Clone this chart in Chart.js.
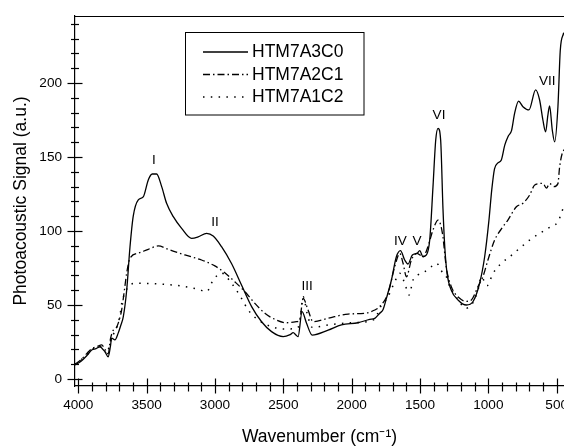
<!DOCTYPE html>
<html><head><meta charset="utf-8">
<script src="https://cdn.jsdelivr.net/npm/chart.js@4/dist/chart.umd.min.js"></script>
<style>html,body{margin:0;padding:0;background:#fff;overflow:hidden}canvas{display:block}</style>
</head><body>
<canvas id="c" width="564" height="446"></canvas>
<script>
const seriesNames = ['HTM7A3C0', 'HTM7A2C1', 'HTM7A1C2'];

const wn3C0 = [4024,3980,3940,3902,3870,3841,3820,3805,3781,3765,3756,3732,3708,3690,3671,3646,3622,3598,3561,3525,3488,3459,3427,3390,3354,3305,3244,3171,3123,3061,3013,2952,2879,2806,2732,2659,2586,2501,2450,2428,2405,2392,2363,2330,2289,2172,2075,1953,1868,1831,1795,1770,1746,1709,1673,1643,1612,1588,1556,1522,1502,1478,1453,1429,1405,1385,1368,1349,1332,1319,1302,1271,1222,1161,1113,1064,1027,996,975,955,930,905,880,855,830,808,779,747,703,654,625,601,581,565,552,532,515,491,474,449];
const sig3C0 = [9.5,12,15.5,19.6,20.5,21.8,20,18.5,15,22,27.6,26.4,31,36,42,60,89,110,121,123,134.5,138.5,138.5,130,118.7,109.7,101.8,95,96,98.4,96.6,89.4,78,63.5,48.9,38.7,32,28.6,30,31.3,29.5,28.6,45.5,37.6,29.7,33,36.5,38,40.3,41,44.4,47,54.5,66.9,82.6,86.7,80.4,77.7,83.8,84.9,86.7,82.6,83.8,93.9,130,161.5,169.4,161.5,115,89.4,71.4,60,53.4,50,52.2,64.7,82.6,107,128,142,146,148,158,164,168,179.5,187.8,184,181.8,195.3,188.5,175,167,178,184.5,168,160.3,184,222,234];

const wn2C1 = [4024,3980,3940,3902,3860,3829,3805,3781,3765,3744,3720,3700,3683,3660,3646,3622,3561,3488,3415,3342,3220,3098,3001,2928,2855,2781,2708,2635,2562,2477,2404,2380,2355,2319,2282,2172,2026,1904,1831,1795,1734,1685,1648,1624,1599,1563,1522,1478,1442,1405,1368,1336,1307,1271,1210,1160,1124,1076,1040,1003,954,893,857,795,747,698,662,630,601,575,552,520,491,479,459,446];
const sig2C1 = [10,13,17,20.5,22,23,20,17,27,33,35,40,46.6,62,71.6,81.5,85,87.6,89.9,87.6,83.8,80.4,76.4,71.8,65.7,59,51.1,44.4,40.3,38,38.7,40,54.5,46.6,38.7,41,43.9,44.4,46.6,48.9,57.9,75.9,84.9,78.2,69.1,80.4,84.9,82.6,89.4,100.7,107.4,98.4,75,62.4,54.5,52.5,53.4,62.4,69.1,80.4,93.9,102.9,107.4,116.4,118.7,124.3,131,132,132.2,129,132,130,132,143,152.7,155];

const wn1C2 = [4024,3980,3940,3900,3850,3820,3790,3770,3744,3710,3690,3683,3659,3634,3573,3415,3244,3123,3061,3013,2952,2879,2806,2757,2684,2586,2489,2404,2380,2355,2325,2289,2172,2002,1831,1795,1734,1685,1648,1612,1580,1551,1515,1466,1417,1380,1332,1307,1283,1246,1210,1173,1124,1076,1051,1010,966,905,844,771,698,625,552,491,449];
const sig1C2 = [10,13,16,20,22,21,17,24,30,37,46,51,57.9,62.4,64.7,64.2,62.8,60.6,59,66.9,71.5,64.7,54.5,46.6,39.9,35.3,33.8,34.2,38,55.6,44,34.9,36.5,38,40.3,47.8,55.6,65.7,71.4,64.7,56.8,66.9,70.3,72.5,75.9,78.2,71.4,69,62.4,56.8,52.2,47.8,50,60,69,63,71.4,78.2,82.6,88.3,93.9,98.4,102.5,106.3,116.4];

const xTickValues = [4000,3500,3000,2500,2000,1500,1000,500];
const yTickValues = [0,50,100,150,200];
const peakLabels = ['I','II','III','IV','V','VI','VII'];
const peakWn = [3447,3000,2326,1643,1522,1361,569];
const peakSig = [148,106,62.8,92.8,92.8,178,201];
const xTitle = 'Wavenumber (cm\u207B\u00B9)';
const yTitle = 'Photoacoustic Signal (a.u.)';

const FONT = "'Liberation Sans', Arial, Helvetica, sans-serif";
const toPts = (xs, ys) => xs.map((x, i) => ({x: x, y: ys[i]}));
const dashes = [[], [7, 3, 1.5, 3], [1.5, 6.3]];

const decor = {
  id: 'decor',
  afterDraw(chart) {
    const ctx = chart.ctx, a = chart.chartArea, xs = chart.scales.x, ys = chart.scales.y;
    ctx.save();
    ctx.strokeStyle = '#000';
    ctx.fillStyle = '#000';
    ctx.lineWidth = 1.2;
    // top frame line
    ctx.beginPath();
    ctx.moveTo(a.left, a.top + 0.5);
    ctx.lineTo(a.right + 2, a.top + 0.5);
    ctx.stroke();
    // y ticks (crossing the axis)
    for (let v = 0; v <= 240; v += 10) {
      const p = Math.round(ys.getPixelForValue(v)) + 0.5;
      const len = (v % 50 === 0) ? 7.5 : 4;
      ctx.beginPath();
      ctx.moveTo(a.left - len, p);
      ctx.lineTo(a.left + len, p);
      ctx.stroke();
    }
    // x ticks
    for (let v = 4000; v >= 500; v -= 100) {
      const p = Math.round(xs.getPixelForValue(v)) + 0.5;
      const major = v % 500 === 0;
      ctx.beginPath();
      ctx.moveTo(p, a.bottom - (major ? 7.5 : 3.5));
      ctx.lineTo(p, a.bottom + (major ? 7.5 : 5.5));
      ctx.stroke();
    }
    // peak annotations
    ctx.font = '13.6px ' + FONT;
    ctx.textAlign = 'center';
    ctx.textBaseline = 'middle';
    peakLabels.forEach((t, i) => {
      ctx.fillText(t, xs.getPixelForValue(peakWn[i]), ys.getPixelForValue(peakSig[i]));
    });
    // legend
    ctx.lineWidth = 1;
    ctx.strokeRect(185.5, 32.5, 178.5, 82.5);
    ctx.font = '17.5px ' + FONT;
    ctx.textAlign = 'left';
    const rowY = [52, 74.5, 97];
    chart.data.datasets.forEach((ds, i) => {
      ctx.save();
      ctx.lineWidth = ds.borderWidth;
      ctx.setLineDash(ds.borderDash || []);
      ctx.beginPath();
      ctx.moveTo(203, rowY[i]);
      ctx.lineTo(248, rowY[i]);
      ctx.stroke();
      ctx.restore();
      ctx.fillText(ds.label, 252, rowY[i] + 0.5);
    });
    ctx.restore();
  }
};

new Chart(document.getElementById('c'), {
  type: 'line',
  data: {
    datasets: [
      {label: seriesNames[0], data: toPts(wn3C0, sig3C0), borderColor: '#000', borderWidth: 1.3, borderDash: dashes[0]},
      {label: seriesNames[1], data: toPts(wn2C1, sig2C1), borderColor: '#000', borderWidth: 1.3, borderDash: dashes[1]},
      {label: seriesNames[2], data: toPts(wn1C2, sig1C2), borderColor: '#000', borderWidth: 1.5, borderDash: dashes[2]}
    ]
  },
  options: {
    responsive: false,
    animation: false,
    devicePixelRatio: 1,
    layout: {padding: {top: 16, left: 0, right: 0, bottom: 0}},
    plugins: {legend: {display: false}, tooltip: {enabled: false}},
    elements: {point: {radius: 0}, line: {cubicInterpolationMode: 'monotone', fill: false}},
    scales: {
      x: {
        type: 'linear', reverse: true, min: 446.6, max: 4024.1,
        afterBuildTicks: s => { s.ticks = xTickValues.map(v => ({value: v})); },
        afterFit: s => { s.height = 60; s.paddingLeft = 0; s.paddingRight = 0; },
        ticks: {autoSkip: false, maxRotation: 0, minRotation: 0, padding: 11, color: '#000',
                font: {family: FONT, size: 13.6}, callback: v => String(v)},
        grid: {display: false, drawTicks: false},
        border: {display: true, color: '#000', width: 1.2},
        title: {display: true, text: xTitle, color: '#000', font: {family: FONT, size: 17.5, lineHeight: 1}, padding: {top: 0, bottom: 0}}
      },
      y: {
        type: 'linear', min: -4.73, max: 245.27,
        afterBuildTicks: s => { s.ticks = yTickValues.map(v => ({value: v})); },
        afterFit: s => { s.width = 75; s.paddingTop = 0; s.paddingBottom = 0; },
        ticks: {padding: 13, color: '#000', font: {family: FONT, size: 13.6}, callback: v => String(v)},
        grid: {display: false, drawTicks: false},
        border: {display: true, color: '#000', width: 1.2},
        title: {display: true, text: yTitle, color: '#000', font: {family: FONT, size: 17.5, lineHeight: 1}, padding: {top: 12.75, bottom: 0}}
      }
    }
  },
  plugins: [decor]
});
</script>
</body></html>
